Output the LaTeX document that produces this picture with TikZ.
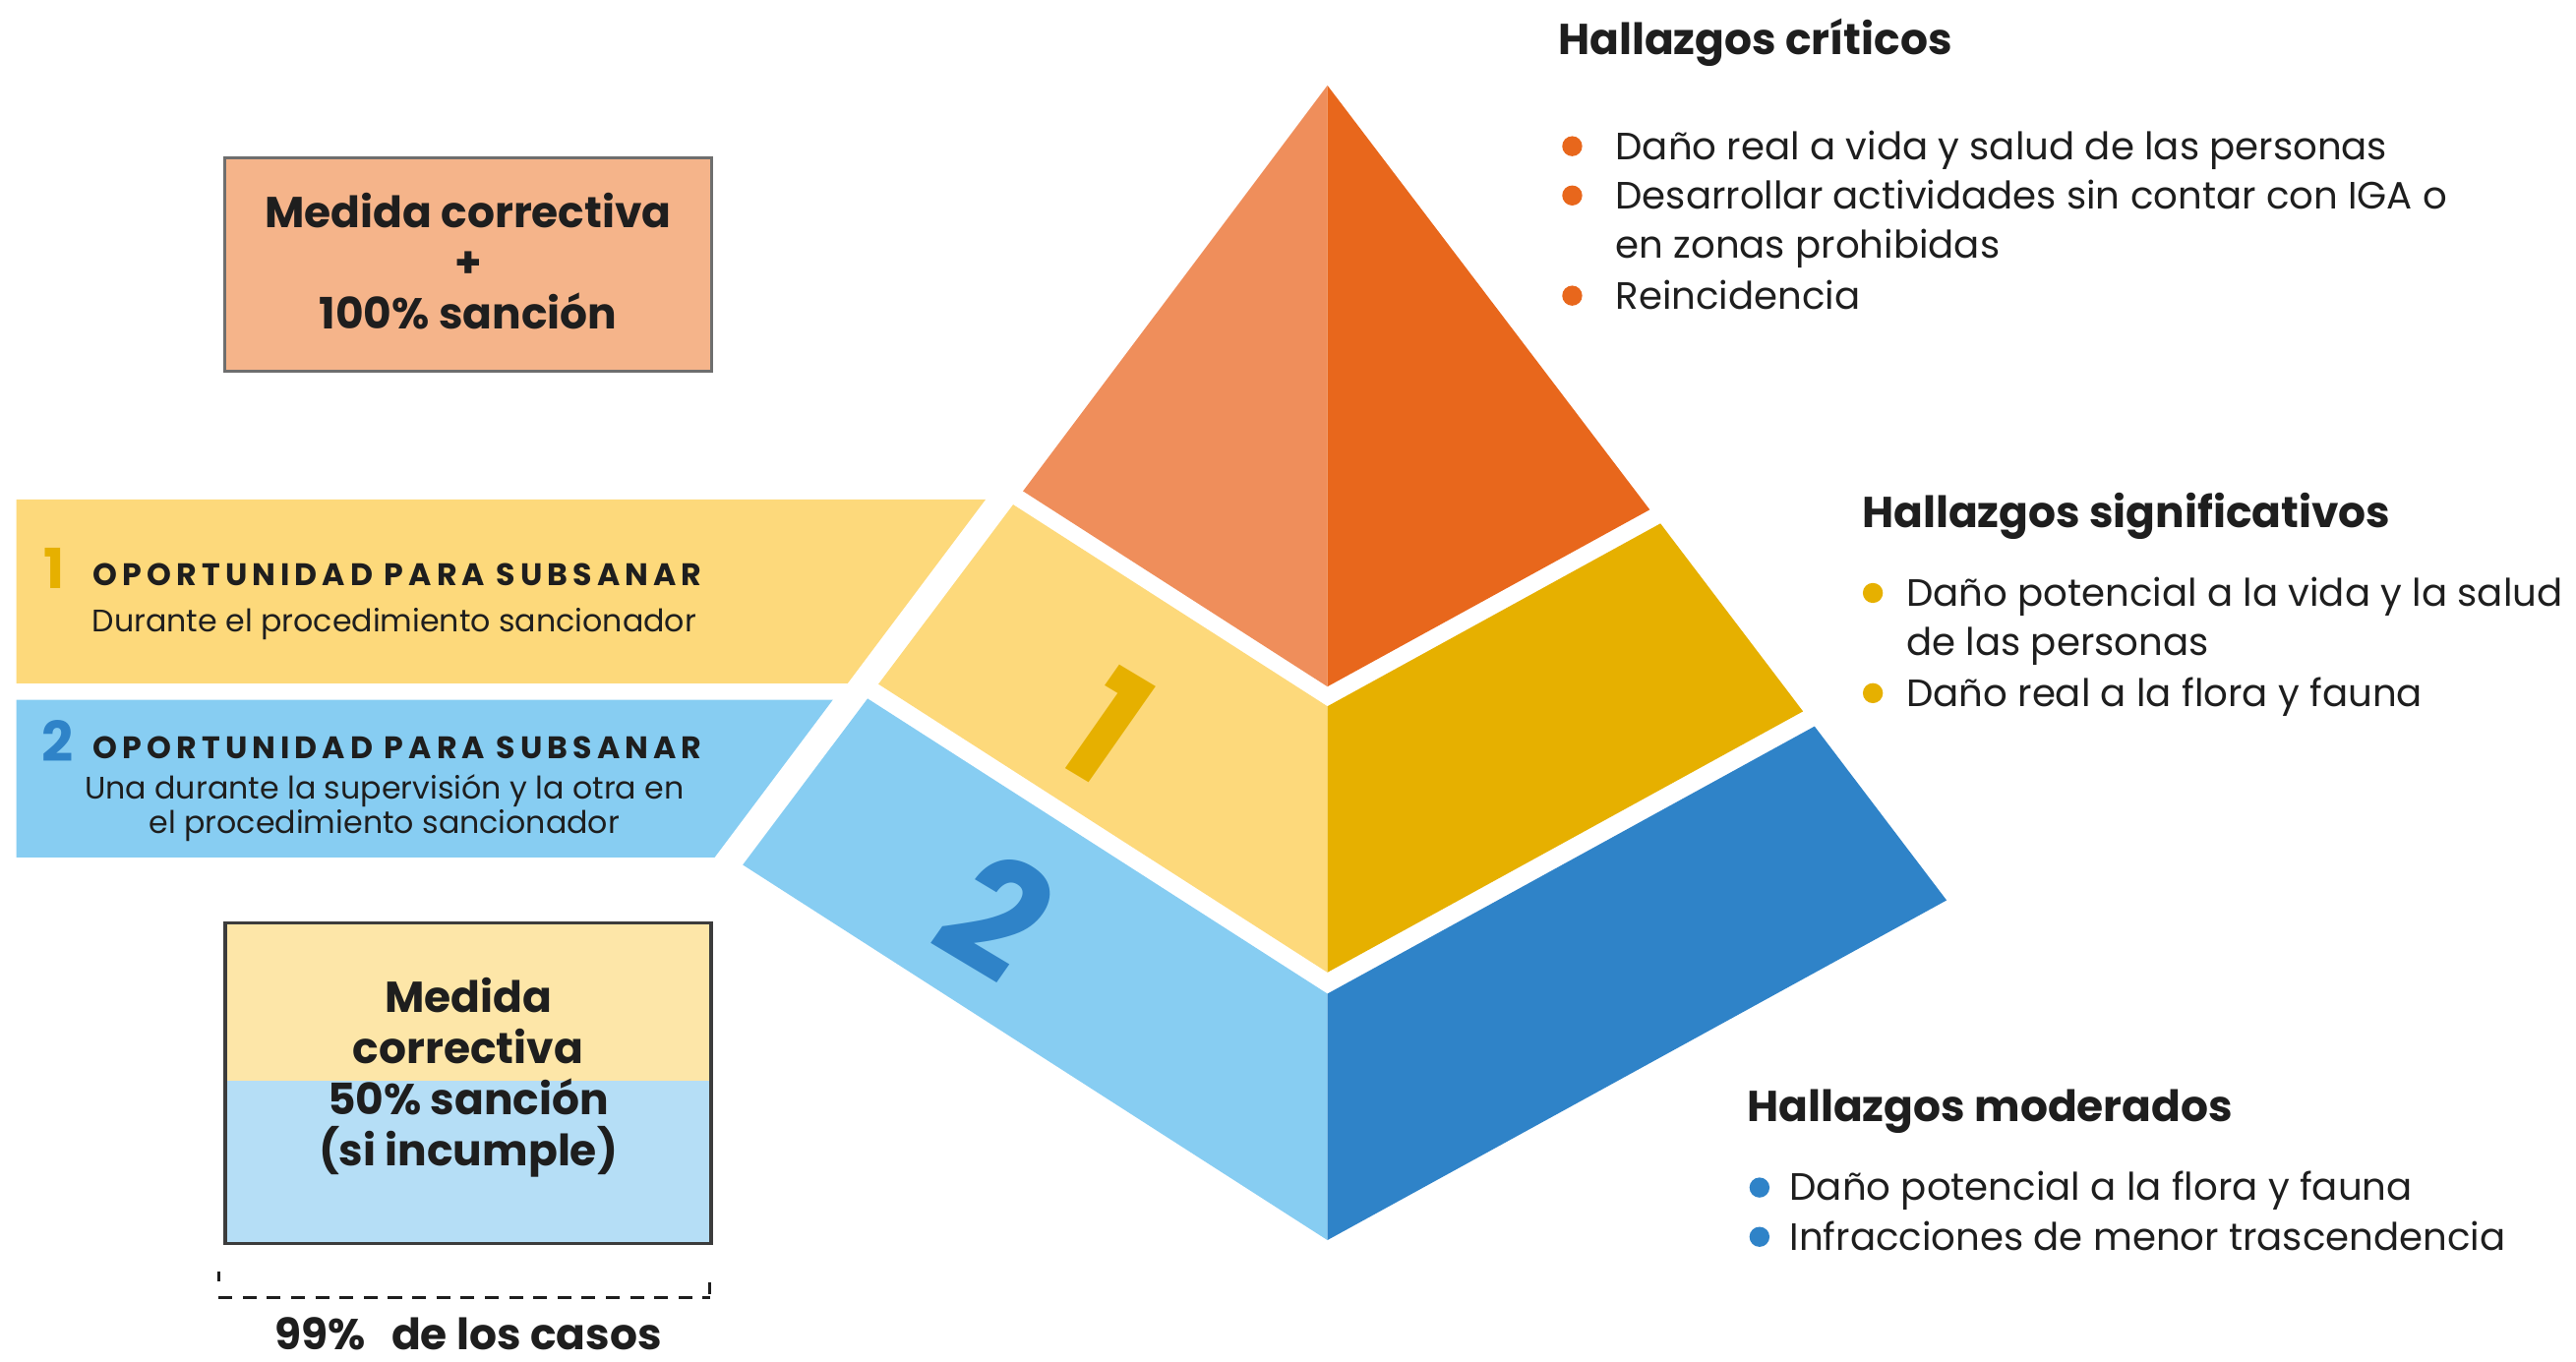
\documentclass[tikz,border=0pt]{standalone}
\usepackage{fontspec}
\setmainfont{Poppins}
\newfontfamily\spacedfont[LetterSpace=16]{Poppins}

\definecolor{ink}{HTML}{1E1E1E}
\definecolor{critleft}{HTML}{EF8E5B}
\definecolor{critright}{HTML}{E8671C}
\definecolor{sigleft}{HTML}{FDD97B}
\definecolor{sigright}{HTML}{E6B000}
\definecolor{modleft}{HTML}{87CDF2}
\definecolor{modright}{HTML}{2F83C8}
\definecolor{boxpeach}{HTML}{F5B48A}
\definecolor{boxyellow}{HTML}{FDE6A8}
\definecolor{boxblue}{HTML}{B5DEF6}
\definecolor{boxline}{HTML}{6E6E6E}
\definecolor{boxlinedark}{HTML}{3C3C3C}

\begin{document}
\begin{tikzpicture}[x=0.0167cm,y=-0.0167cm]
% Styles
\tikzstyle{heading text}=[anchor=base west, inner sep=0pt, text=ink, font=\bfseries\fontsize{12.5}{14}\selectfont]
\tikzstyle{item text}=[anchor=base west, inner sep=0pt, text=ink, font=\fontsize{11}{14}\selectfont]
\tikzstyle{box text}=[align=center, inner sep=0pt, text=ink, font=\bfseries\fontsize{12.5}{14.7}\selectfont]
\tikzstyle{banner title}=[inner sep=0pt, text=ink, font=\spacedfont\bfseries\fontsize{9}{10}\selectfont]
\tikzstyle{banner text}=[align=center, inner sep=0pt, text=ink, font=\fontsize{9}{10}\selectfont]
\tikzstyle{banner digit}=[inner sep=0pt, font=\bfseries\fontsize{16}{16}\selectfont]
\tikzstyle{face number}=[inner sep=0pt, transform shape, font=\bfseries\fontsize{38}{38}\selectfont]

\useasboundingbox (0,0) rectangle (1568,829);

% draw the pyramid
%critico
\fill[critleft] (808,52) -- (622.7,299) -- (808,418) -- cycle;
\fill[critright] (808,52) -- (808,418) -- (1004.2,310.3) -- cycle;
%significativo
\fill[sigleft] (616.7,307.2) -- (534.7,416.5) -- (808,592) -- (808,430) -- cycle;
\fill[sigright] (808,430) -- (808,592) -- (1097.5,433.1) -- (1010.7,318.7) -- cycle;
%moderado
\fill[modleft] (528.1,425.3) -- (452.1,526.5) -- (808,755) -- (808,605) -- cycle;
\fill[modright] (808,605) -- (808,755) -- (1184.9,548.1) -- (1104.5,442.2) -- cycle;

\begin{scope}[shift={(674,442)}]
\node[face number, text=sigright, cm={1,-0.6,0.7,1,(0,0)}] (uno) at (0,0) {1};
\end{scope}
\begin{scope}[shift={(607,557)}]
\node[face number, text=modright, cm={1,-0.6,0.7,1,(0,0)}] (dos) at (0,0) {2};
\end{scope}

% banners
\fill[sigleft] (10,304) -- (600,304) -- (516,416) -- (10,416) -- cycle;
\fill[modleft] (10,426) -- (507,426) -- (435,522) -- (10,522) -- cycle;

\node[banner digit, text=sigright] (num1) at (33,346) {1};
\node[banner title] (op1) at (242,350) {OPORTUNIDAD PARA SUBSANAR};
\node[banner text] (op1txt) at (240,380) {Durante el procedimiento sancionador};
\node[banner digit, text=modright] (num2) at (35,451) {2};
\node[banner title] (op2) at (242,455) {OPORTUNIDAD PARA SUBSANAR};
\node[banner text] (op2txt) at (234,492) {Una durante la supervisión y la otra en\\el procedimiento sancionador};

% boxes
\filldraw[fill=boxpeach, draw=boxline, line width=0.8pt] (137,96) rectangle (433,226);
\node[box text] (sancion100) at (285,159) {Medida correctiva\\+\\100\% sanción};

\fill[boxyellow] (137,562) rectangle (433,658);
\fill[boxblue] (137,658) rectangle (433,757);
\draw[boxlinedark, line width=1pt] (137,562) rectangle (433,757);
\node[box text] (sancion50) at (285,656) {Medida\\correctiva\\50\% sanción\\(si incumple)};

\draw[ink, line width=0.9pt, dash pattern=on 4pt off 3pt] (133,790) -- (432,790);
\draw[ink, line width=0.9pt] (133,774) -- (133,780);
\draw[ink, line width=0.9pt] (432,781) -- (432,788);
\node[box text] (casos) at (285,812) {99\%\hspace{0.6em}de los casos};

% bullets
\foreach \y in {89,119,180} {
\fill[critright] (957,\y) circle (2.9pt);
}
\foreach \y in {361,422} {
\fill[sigright] (1140,\y) circle (2.9pt);
}
\foreach \y in {723,753} {
\fill[modright] (1071,\y) circle (2.9pt);
}

\node[heading text] (critico) at (948,33) {Hallazgos críticos};
\node[item text] (crit1) at (983,97) {Daño real a vida y salud de las personas};
\node[item text] (crit2) at (983,127) {Desarrollar actividades sin contar con IGA o};
\node[item text] (crit3) at (983,157) {en zonas prohibidas};
\node[item text] (crit4) at (983,188) {Reincidencia};

\node[heading text] (signif) at (1133,321) {Hallazgos significativos};
\node[item text] (sig1) at (1160,369) {Daño potencial a la vida y la salud};
\node[item text] (sig2) at (1160,399) {de las personas};
\node[item text] (sig3) at (1160,430) {Daño real a la flora y fauna};

\node[heading text] (moder) at (1063,683) {Hallazgos moderados};
\node[item text] (mod1) at (1089,731) {Daño potencial a la flora y fauna};
\node[item text] (mod2) at (1089,761) {Infracciones de menor trascendencia};

\end{tikzpicture}
\end{document}
